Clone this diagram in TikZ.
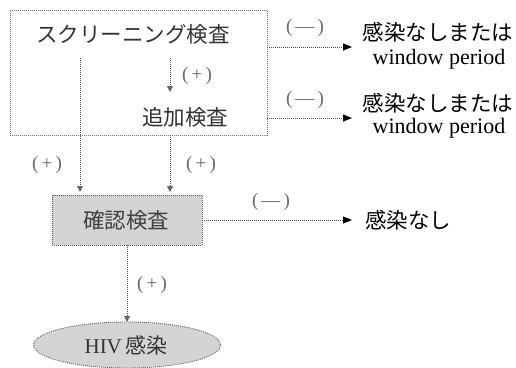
\documentclass[tikz,border=0pt]{standalone}
\usepackage{fontspec}
\setmainfont{Liberation Serif}
\newfontfamily\jp{Noto Sans CJK JP}
\usetikzlibrary{arrows.meta,shapes.geometric}
\tikzset{
  dline/.style={draw=black!70, line width=0.9pt, dash pattern=on 1pt off 1pt},
  downarr/.style={dline, -{Triangle[length=6pt,width=6pt,color=black!60,fill=black!60]}},
  rightarr/.style={dline, -{Triangle[length=9pt,width=7pt,color=black,fill=black]}},
  plab/.style={text=black!60, font=\fontsize{19}{19}\selectfont, inner sep=0pt},
  jlab/.style={text=black!80, font=\jp\fontsize{21.5}{21.5}\selectfont, inner sep=0pt},
  rlab/.style={text=black, font=\jp\fontsize{21.5}{21.5}\selectfont, inner sep=0pt},
  elab/.style={text=black, font=\fontsize{22}{22}\selectfont, inner sep=0pt},
}
\begin{document}
\begin{tikzpicture}[x=1pt,y=-1pt]
\useasboundingbox (0,0) rectangle (516,367);
% big screening box
\node[dline, draw=black!55, minimum width=257pt, minimum height=125pt, anchor=north west, inner sep=0pt] (scr) at (10,10) {};
\node[jlab] (t1) at (133,34) {スクリーニング検査};
\node[jlab] (t2) at (185,117) {追加検査};
\coordinate (a1) at (170,58);
\coordinate (a2) at (170,92);
\draw[downarr] (a1) -- (a2);
\node[plab] (p1) at (197,76) {(\,+\,)};
% confirm box
\node[dline, draw=black!65, fill=black!17, minimum width=150pt, minimum height=50pt, inner sep=0pt] (conf) at (127,220) {};
\node[jlab, text=black!75] (t3) at (126,220) {確認検査};
% vertical arrows into confirm box
\coordinate (l1) at (80,58);
\coordinate (l1e) at (80,192);
\coordinate (l2) at (170,135);
\coordinate (l2e) at (170,192);
\draw[downarr] (l1) -- (l1e);
\draw[downarr] (l2) -- (l2e);
\node[plab] (p2) at (47,165) {(\,+\,)};
\node[plab] (p3) at (201,165) {(\,+\,)};
% ellipse
\node[ellipse, dline, draw=black!60, fill=black!17, minimum width=187pt, minimum height=46pt, inner sep=0pt] (hiv) at (127,345) {};
\node[elab, text=black!80, font=\fontsize{21}{21}\selectfont] (t4) at (126,345) {HIV\,{\jp\fontsize{21}{21}\selectfont 感染}};
\coordinate (d1) at (127,245);
\coordinate (d2) at (127,322);
\draw[downarr] (d1) -- (d2);
\node[plab] (p4) at (152,285) {(\,+\,)};
% right arrows
\coordinate (r1s) at (267,47);
\coordinate (r1e) at (352,47);
\coordinate (r2s) at (267,118);
\coordinate (r2e) at (352,118);
\draw[rightarr] (r1s) -- (r1e);
\draw[rightarr] (r2s) -- (r2e);
\node[plab] (m1) at (305,28) {(\,—\,)};
\node[plab] (m2) at (305,100) {(\,—\,)};
\node[rlab] (o1) at (438,32) {感染なしまたは};
\node[elab] (o2) at (439,59) {window period};
\node[rlab] (o3) at (438,103) {感染なしまたは};
\node[elab] (o4) at (439,128) {window period};
% confirm negative
\coordinate (r3e) at (352,220);
\draw[rightarr] (conf.east) -- (r3e);
\node[plab] (m3) at (271,202) {(\,—\,)};
\node[rlab, anchor=west] (o5) at (365,220) {感染なし};
\end{tikzpicture}
\end{document}
